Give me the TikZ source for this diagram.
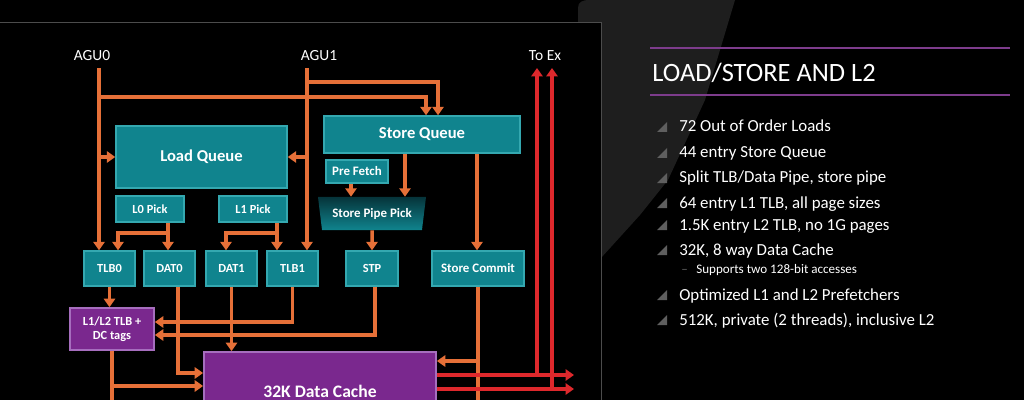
\documentclass[tikz,border=0pt]{standalone}
\usepackage{fontspec}
\setmainfont{Carlito}
\usetikzlibrary{arrows.meta,positioning,calc,shapes.geometric}
\definecolor{orng}{RGB}{230,112,56}
\definecolor{redx}{RGB}{222,40,44}
\definecolor{tealfill}{RGB}{16,132,142}
\definecolor{tealedge}{RGB}{52,168,176}
\definecolor{tealdark}{RGB}{6,52,58}
\definecolor{purpfill}{RGB}{122,40,142}
\definecolor{purpedge}{RGB}{166,110,190}
\definecolor{purpline}{RGB}{125,60,140}
\definecolor{panelgrey}{RGB}{30,30,30}
\definecolor{bulgrey}{RGB}{95,95,95}

\begin{document}
\begin{tikzpicture}[x=0.025cm, y=-0.025cm,
  blk/.style={draw=tealedge, fill=tealfill, line width=1pt, text=white, inner sep=0pt, align=center, font=\bfseries\fontsize{8.8}{10}\selectfont},
  big/.style={font=\bfseries\fontsize{11.8}{13}\selectfont},
  mid/.style={font=\bfseries\fontsize{9.2}{10}\selectfont},
  pipe/.style={minimum width=1.275cm, minimum height=0.875cm},
  cache/.style={draw=purpedge, fill=purpfill, line width=1.2pt, text=white, inner sep=0pt, align=center},
  ld/.style={draw=orng, line width=2.5pt, -{Triangle[width=8pt,length=6pt]}},
  ex/.style={draw=redx, line width=2.5pt, -{Triangle[width=8pt,length=6pt]}},
  lbl/.style={text=white, font=\fontsize{11}{13}\selectfont},
  bul/.style={text=white, anchor=base west, inner sep=0pt, font=\fontsize{12}{14}\selectfont}]
\useasboundingbox (0,0) rectangle (1024,400);
\clip (0,0) rectangle (1024,400);
\fill[black] (0,0) rectangle (1024,400);
\fill[panelgrey] (578,22) -- (578,8) .. controls (578,2) and (582,0) .. (590,0) -- (735,0) -- (705,100) -- (668,180) -- (640,215) -- (601,258) -- (601,22) -- cycle;
\draw[black!70, line width=0.6pt] (0,22) -- (601,22) -- (601,400);

\node[blk, big, minimum width=4.275cm, minimum height=1.55cm] (lq) at (201.5,157) {Load Queue};
\node[blk, minimum width=1.7cm, minimum height=0.65cm] (lp0) at (150,209) {L0 Pick};
\node[blk, minimum width=1.7cm, minimum height=0.65cm] (lp1) at (253,209) {L1 Pick};
\node[blk, pipe] (TLB0) at (109.5,268.5) {TLB0};
\node[blk, pipe] (DAT0) at (169.5,268.5) {DAT0};
\node[blk, pipe] (DAT1) at (231.5,268.5) {DAT1};
\node[blk, pipe] (TLB1) at (292.5,268.5) {TLB1};
\node[blk, pipe, minimum width=1.3cm] (STP) at (372,268.5) {STP};
\node[blk, mid, minimum width=2.3cm, minimum height=0.875cm] (sc) at (478,268.5) {Store Commit};
\node[blk, big, minimum width=4.9cm, minimum height=0.925cm] (sq) at (422,134.5) {Store Queue};
\node[blk, mid, minimum width=1.55cm, minimum height=0.575cm] (pf) at (357,171.5) {Pre Fetch};
\node[trapezium, trapezium left angle=110, trapezium right angle=110, trapezium stretches body,
  minimum width=2.7cm, minimum height=0.825cm, inner sep=0pt, top color=tealdark, bottom color=tealfill,
  text=white, font=\bfseries\fontsize{9.2}{10}\selectfont] (spp) at (372,213.5) {Store Pipe Pick};
\node[cache, minimum width=2.1cm, minimum height=1.05cm, font=\bfseries\fontsize{8.8}{9.6}\selectfont] (tags) at (112,329) {L1/L2 TLB +\\DC tags};
\node[cache, minimum width=5.8cm, minimum height=1.95cm, font=\bfseries\fontsize{12.5}{14}\selectfont] (dc) at (320,391) {32K Data Cache};

\node[lbl] (agu0) at (92,56) {AGU0};
\node[lbl] (agu1) at (319,56) {AGU1};
\node[lbl] (toex) at (545,56) {To Ex};
\coordinate (a0) at (99,68);
\coordinate (a1) at (307,68);
\coordinate (p0) at (168,233);
\coordinate (p1) at (277,233);
\coordinate (e0) at (537,68);
\coordinate (e1) at (552,68);
\coordinate (o0) at (574,375);
\coordinate (o1) at (574,389);

\draw[ld] (a0) -- (a0 |- TLB0.north);
\draw[ld] (a0 |- lq.west) -- (lq.west);
\draw[ld] (a0 |- 0,97) -| (426,0 |- sq.north);
\draw[ld] (a1) -- (a1 |- TLB1.north);
\draw[ld] (a1 |- lq.east) -- (lq.east);
\draw[ld] (a1 |- 0,82) -| (438,0 |- sq.north);
\draw[ld] (p0 |- lp0.south) -- (p0 |- DAT0.north);
\draw[ld] (p0) -| (118,0 |- TLB0.north);
\draw[ld] (p1 |- lp1.south) -- (p1 |- TLB1.north);
\draw[ld] (p1) -| (226,0 |- DAT1.north);
\draw[ld] (351,0 |- pf.south) -- (351,0 |- spp.north);
\draw[ld] (405,0 |- sq.south) -- (405,0 |- spp.north);
\draw[ld] (477,0 |- sq.south) -- (477,0 |- sc.north);
\draw[ld] (spp.south) -- (STP.north);
\draw[ld] (TLB0.south) -- (TLB0.south |- tags.north);
\draw[ld] (TLB1.south) |- (tags.east |- 0,322);
\draw[ld] (375,0 |- STP.south) |- (tags.east |- 0,335);
\draw[ld] (178,0 |- DAT0.south) |- (dc.west |- 0,373);
\draw[ld] (DAT1.south) -- (DAT1.south |- dc.north);
\draw[orng, line width=2.5pt] (tags.south) -- (tags.south |- 0,410);
\draw[ld] (tags.south |- 0,386) -- (dc.west |- 0,386);
\draw[orng, line width=2.5pt] (sc.south) -- (sc.south |- 0,410);
\draw[ld] (sc.south |- 0,361) -- (dc.east |- 0,361);
\draw[ex] (dc.east |- o0) -- (o0);
\draw[ex] (dc.east |- o1) -- (o1);
\draw[ex] (e0 |- o0) -- (e0);
\draw[ex] (e1 |- o1) -- (e1);

\draw[purpline, line width=1.8pt] (650,48) -- (1010,48);
\draw[purpline, line width=1.8pt] (650,95) -- (1010,95);
\node[anchor=base west, inner sep=0pt, text=white, font=\fontsize{18.8}{22}\selectfont] (title) at (652,82) {LOAD/STORE AND L2};
\foreach \y/\t in {132/72 Out of Order Loads, 158/44 entry Store Queue, 183/{Split TLB/Data Pipe, store pipe},
  208/{64 entry L1 TLB, all page sizes}, 230/{1.5K entry L2 TLB, no 1G pages}, 255/{32K, 8 way Data Cache},
  300/Optimized L1 and L2 Prefetchers, 325/{512K, private (2 threads), inclusive L2}}
{
  \fill[bulgrey] (657,\y) -- (667,\y-10) -- (667,\y) -- cycle;
  \node[bul] (b\y) at (679,\y) {\t};
}
\node[anchor=base west, inner sep=0pt, text=bulgrey, font=\fontsize{9.3}{11}\selectfont] (dash) at (681,273) {--};
\node[anchor=base west, inner sep=0pt, text=white, font=\fontsize{9.3}{11}\selectfont] (sub) at (696,273) {Supports two 128-bit accesses};
\end{tikzpicture}
\end{document}
